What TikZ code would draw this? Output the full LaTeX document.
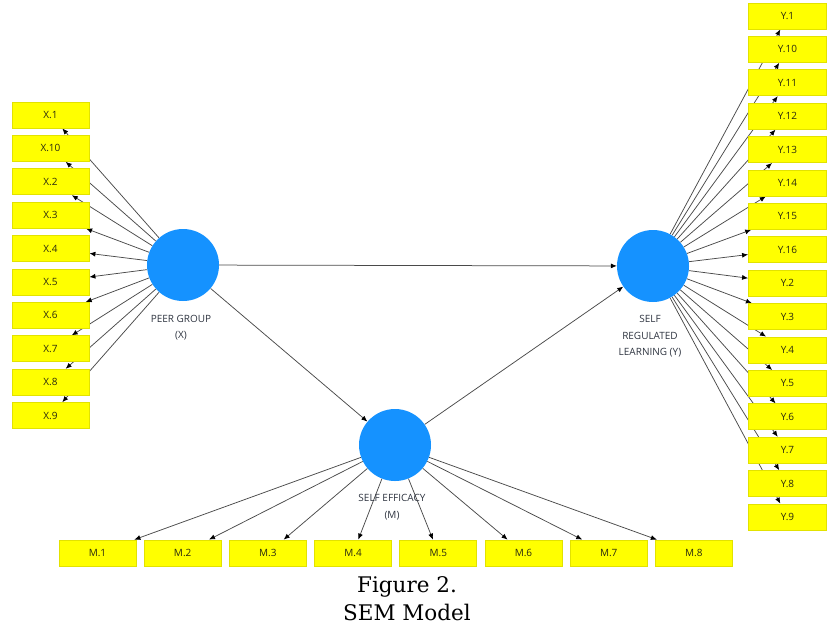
\documentclass[tikz,border=0pt]{standalone}
\usepackage{fontspec}
\setmainfont{DejaVu Serif}
\newfontfamily\uifont{Open Sans}
\usetikzlibrary{arrows.meta,backgrounds}
\definecolor{boxyellow}{HTML}{FFFF00}
\definecolor{boxborder}{HTML}{E2E200}
\definecolor{latblue}{HTML}{1592FF}
\definecolor{linegray}{HTML}{4A4A4A}
\definecolor{textdark}{HTML}{2A2A10}
\definecolor{labgray}{HTML}{2E3440}
\tikzset{
  ind/.style={draw=boxborder, line width=0.8pt, fill=boxyellow, minimum width=77pt, minimum height=26pt, inner sep=0pt, font=\uifont\fontsize{10}{11}\selectfont, text=textdark},
  lat/.style={circle, fill=latblue, minimum size=72pt, inner sep=0pt},
  lab/.style={font=\uifont\fontsize{10}{16.5}\selectfont, align=center, text=labgray},
  conn/.style={draw=linegray, line width=0.75pt, -{Latex[length=6pt,width=5pt,color=black]}},
  captxt/.style={font=\fontsize{21.5}{28}\selectfont, anchor=base, inner sep=0pt, text=black}
}
\begin{document}
\begin{tikzpicture}[x=1pt,y=-1pt]
\useasboundingbox (0,0) rectangle (834,625);
% latent variables
\node[lat] (xc) at (183,265) {};
\node[lat] (yc) at (653,266) {};
\node[lat] (mc) at (395,445) {};
\node[lab] (xl) at (181,327.5) {PEER GROUP\\(X)};
\node[lab] (yl) at (650,336.5) {SELF\\REGULATED\\LEARNING (Y)};
\node[lab] (ml) at (392,507) {SELF EFFICACY\\(M)};
% indicators
\foreach \n [count=\i from 0] in {1,10,2,3,4,5,6,7,8,9}
  \node[ind] (x\n) at (50.5,115+33.4*\i) {X.\n};
\foreach \n [count=\i from 0] in {1,10,11,12,13,14,15,16,2,3,4,5,6,7,8,9}
  \node[ind, minimum width=78pt] (y\n) at (787.5,16+33.4*\i) {Y.\n};
\foreach \n in {1,...,8}
  \node[ind] (m\n) at (97.5+85.2*\n-85.2,553) {M.\n};
% connectors
\begin{scope}[on background layer]
\foreach \n in {1,10,2,3,4,5,6,7,8,9}
  \draw[conn] (xc) -- (x\n);
\foreach \n in {1,10,11,12,13,14,15,16,2,3,4,5,6,7,8,9}
  \draw[conn] (yc) -- (y\n);
\foreach \n in {1,...,8}
  \draw[conn] (mc) -- (m\n);
\draw[conn] (xc) -- (yc);
\draw[conn] (xc) -- (mc);
\draw[conn] (mc) -- (yc);
\end{scope}
% caption
\node[captxt] (c1) at (407,592.5) {Figure 2.};
\node[captxt] (c2) at (407,620.5) {SEM Model};
\end{tikzpicture}
\end{document}
